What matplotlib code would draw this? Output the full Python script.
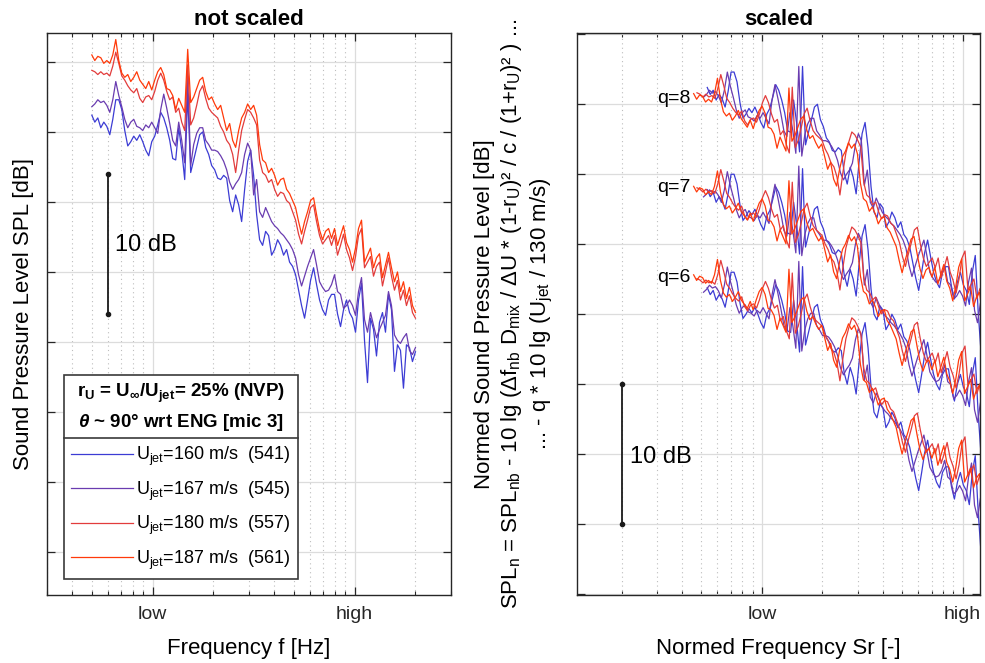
import numpy as np
import matplotlib
matplotlib.use("Agg")
import matplotlib.pyplot as plt
from matplotlib.font_manager import FontProperties
from matplotlib.lines import Line2D
from matplotlib.ticker import FixedLocator, NullFormatter

plt.rcParams["font.family"] = ["Liberation Sans", "DejaVu Sans"]
plt.rcParams["mathtext.fontset"] = "custom"
plt.rcParams["mathtext.rm"] = "Liberation Sans"
plt.rcParams["mathtext.it"] = "Liberation Sans:italic:bold"
plt.rcParams["mathtext.bf"] = "Liberation Sans:bold"

# jet speeds, run numbers and line colours
u_jet = [160, 167, 180, 187]
run_ids = [541, 545, 557, 561]
colors = ["#3c3cd4", "#6a3cb0", "#e23c3c", "#ff3a0a"]

# narrowband spectra (dB), on a log frequency grid
freq = np.geomspace(500, 20000, 109)
spl_160 = [96.2, 95.7, 96.0, 95.3, 95.7, 95.4, 94.8, 95.9, 97.3, 97.3,
           96.6, 95.1, 94.0, 94.3, 94.7, 94.4, 94.8, 94.3, 93.7, 93.3,
           94.3, 94.7, 95.5, 96.4, 96.0, 95.3, 94.4, 93.1, 93.0, 95.3,
           93.7, 91.6, 97.7, 92.1, 93.0, 93.9, 94.8, 95.0, 93.9, 93.4,
           92.6, 92.3, 91.7, 91.6, 91.9, 91.7, 90.1, 89.3, 90.5, 89.8,
           88.6, 90.9, 92.9, 93.7, 91.9, 89.1, 87.3, 86.9, 87.9, 87.6,
           86.2, 86.6, 87.3, 86.9, 86.2, 86.6, 85.7, 85.4, 84.8, 83.7,
           82.6, 81.7, 83.0, 84.4, 85.3, 84.1, 83.0, 82.3, 81.9, 83.0,
           83.4, 83.4, 82.0, 81.1, 82.3, 83.0, 82.1, 81.7, 80.7, 83.0,
           84.2, 80.1, 77.1, 81.7, 80.9, 79.0, 81.4, 82.1, 80.7, 83.4,
           82.3, 77.9, 79.8, 79.4, 76.7, 79.8, 79.6, 78.6, 79.3]
spl_167 = [96.8, 97.0, 97.3, 97.1, 97.2, 96.9, 96.4, 97.3, 98.6, 97.6,
           96.8, 95.9, 95.3, 95.7, 95.9, 95.4, 95.3, 95.1, 95.5, 95.3,
           95.7, 95.3, 94.9, 96.6, 97.7, 96.7, 95.6, 94.4, 94.0, 95.7,
           94.4, 92.8, 99.0, 92.6, 94.1, 94.9, 95.3, 95.3, 94.4, 94.1,
           93.7, 93.7, 93.6, 93.3, 92.9, 92.3, 91.4, 90.9, 91.3, 91.6,
           92.1, 93.4, 94.2, 93.7, 90.5, 91.6, 89.3, 88.9, 89.6, 89.1,
           88.6, 88.3, 88.1, 87.8, 87.6, 87.3, 87.0, 86.6, 86.0, 84.8,
           84.0, 84.7, 85.4, 86.0, 86.6, 85.5, 84.3, 83.9, 83.6, 83.7,
           84.1, 84.8, 83.6, 83.4, 82.4, 82.6, 83.0, 82.6, 81.9, 83.6,
           84.6, 81.6, 80.7, 82.1, 81.2, 80.3, 80.9, 81.4, 81.9, 83.6,
           82.6, 80.5, 80.1, 79.9, 80.3, 80.6, 79.4, 79.1, 79.6]
spl_180 = [99.4, 99.3, 99.1, 99.3, 99.1, 99.2, 99.0, 99.7, 100.7, 99.9,
           99.0, 98.7, 98.3, 98.0, 97.8, 98.1, 97.4, 97.1, 97.5, 97.6,
           97.3, 97.9, 98.7, 99.2, 98.7, 97.9, 97.3, 97.5, 96.4, 96.7,
           95.7, 95.1, 99.8, 95.5, 96.0, 96.9, 97.9, 98.3, 97.4, 96.7,
           96.4, 96.2, 96.0, 95.4, 95.0, 94.4, 94.1, 93.4, 92.1, 93.7,
           95.1, 95.9, 96.6, 96.4, 96.0, 95.5, 93.0, 92.1, 91.9, 91.4,
           91.6, 90.9, 90.4, 90.7, 90.6, 90.1, 89.9, 89.3, 88.7, 87.7,
           87.0, 87.9, 88.7, 89.6, 89.8, 88.6, 87.6, 87.0, 87.3, 87.6,
           86.9, 87.6, 86.2, 86.9, 87.7, 86.6, 86.0, 85.1, 86.1, 87.6,
           88.1, 85.3, 85.7, 86.1, 84.7, 85.4, 85.7, 84.0, 85.0, 86.0,
           84.7, 83.7, 84.4, 83.0, 83.7, 82.6, 83.3, 82.1, 81.7]
spl_187 = [100.5, 100.1, 100.4, 100.3, 99.9, 100.1, 99.9, 100.5, 101.6, 100.1,
           99.2, 98.9, 99.1, 98.6, 98.9, 99.3, 98.7, 98.4, 98.1, 98.6,
           98.0, 98.7, 99.3, 99.6, 99.1, 98.1, 98.0, 97.6, 96.6, 97.4,
           96.9, 96.4, 100.9, 97.1, 97.5, 98.1, 98.7, 98.9, 97.9, 97.3,
           97.5, 97.0, 96.6, 96.9, 96.0, 95.1, 95.6, 94.4, 93.9, 95.1,
           96.0, 96.4, 97.0, 96.6, 96.9, 96.2, 94.1, 93.0, 92.8, 92.1,
           92.4, 91.9, 91.2, 91.6, 91.7, 90.9, 90.6, 90.1, 89.6, 88.6,
           87.7, 88.6, 89.3, 90.1, 90.3, 89.1, 88.0, 87.3, 87.9, 88.1,
           87.4, 88.1, 86.9, 87.6, 88.3, 87.1, 86.6, 85.7, 86.7, 88.1,
           88.7, 85.7, 86.2, 86.7, 85.3, 86.0, 86.3, 84.6, 85.5, 86.4,
           85.3, 84.3, 85.0, 83.6, 84.3, 83.1, 83.9, 82.6, 82.1]
spectra = [spl_160, spl_167, spl_180, spl_187]

# scaling parameters
r_u = 0.25
d_mix = 0.171
q_values = [8, 7, 6]
stack_shift = {8: -73.6, 7: -81.8, 6: -89.7}  # vertical offsets so the q groups don't overlap


def style_axes(ax):
    ax.set_xscale("log")
    ax.set_axisbelow(True)
    ax.grid(True, which="major", color="#dcdcdc", linewidth=0.9)
    ax.grid(True, which="minor", axis="x", color="#bdbdbd", linestyle=(0, (1, 3)), linewidth=0.8)
    ax.tick_params(which="both", direction="in", top=True, right=True, colors="#262626",
                   labelsize=14, pad=8)
    ax.tick_params(which="major", length=6, width=0.9)
    ax.tick_params(which="minor", length=3, width=0.8)
    ax.xaxis.set_minor_formatter(NullFormatter())
    for spine in ax.spines.values():
        spine.set_color("#262626")
        spine.set_linewidth(1.0)


fig = plt.figure(figsize=(9.85, 6.63), dpi=100)
ax_l = fig.add_axes([0.0477, 0.1026, 0.4102, 0.8477])
ax_r = fig.add_axes([0.5858, 0.1026, 0.4091, 0.8477])

# ---- left: not scaled
lines = []
for u, rid, col, spl in zip(u_jet, run_ids, colors, spectra):
    (ln,) = ax_l.plot(freq, spl, color=col, linewidth=0.9,
                      label=f"U$_\\mathrm{{jet}}$=%d m/s  (%d)" % (u, rid))
    lines.append(ln)
style_axes(ax_l)
ax_l.set_xlim(300, 30000)
ax_l.set_ylim(61.93, 102.07)
ax_l.xaxis.set_major_locator(FixedLocator([1000, 10000]))
ax_l.set_xticklabels(["low", "high"])
ax_l.set_yticks(np.arange(65, 101, 5))
ax_l.set_yticklabels([])
ax_l.plot([600, 600], [82, 92], color="#1a1a1a", linewidth=1.3, marker="o", markersize=3)
ax_l.text(655, 86.9, "10 dB", fontsize=17, va="center")
ax_l.set_title("not scaled", fontsize=16, fontweight="bold", pad=6)
ax_l.set_xlabel("Frequency f [Hz]", fontsize=16, labelpad=11)
ax_l.set_ylabel("Sound Pressure Level SPL [dB]", fontsize=16, labelpad=1)

header = ("r$_\\mathbf{U}$ = U$_\\mathbf{\\infty}$/U$_\\mathbf{jet}$= 25% (NVP)\n"
          "$\\theta$ ~ 90° wrt ENG [mic 3]")
leg = ax_l.legend(lines, [ln.get_label() for ln in lines], loc="lower left",
                  bbox_to_anchor=(64 / 985, 84 / 663), bbox_transform=fig.transFigure,
                  title=header, title_fontproperties=FontProperties(weight="bold", size=13.5),
                  prop={"size": 13}, frameon=True, fancybox=False, edgecolor="#3a3a3a",
                  framealpha=1, handlelength=3.4, handletextpad=0.2, labelspacing=0.63,
                  borderpad=0.4, borderaxespad=0)
leg.get_frame().set_linewidth(1.2)
leg.get_title().set_multialignment("center")
leg.get_title().set_linespacing(1.5)

# ---- right: scaled
for q in q_values:
    for u, col, spl in zip(u_jet, colors, spectra):
        sr = freq * d_mix / u
        spl_n = (np.asarray(spl) + 10 * np.log10(u * (1 - r_u))
                 - q * 10 * np.log10(u / 130) + stack_shift[q])
        ax_r.plot(sr, spl_n, color=col, linewidth=0.9)
style_axes(ax_r)
ax_r.set_xlim(0.12, 12.2)
ax_r.set_ylim(-0.07, 40.07)
ax_r.xaxis.set_major_locator(FixedLocator([1, 10]))
ax_r.set_xticklabels(["low", "high"])
ax_r.set_yticks(np.arange(0, 41, 5))
ax_r.set_yticklabels([])
ax_r.plot([0.2, 0.2], [5, 15], color="#1a1a1a", linewidth=1.3, marker="o", markersize=3)
ax_r.text(0.22, 9.8, "10 dB", fontsize=17, va="center")
for q, yq in zip(q_values, [35.4, 29.0, 22.6]):
    ax_r.text(0.443, yq, f"q={q}", ha="right", va="center", fontsize=14)
ax_r.set_title("scaled", fontsize=16, fontweight="bold", pad=6)
ax_r.set_xlabel("Normed Frequency Sr [-]", fontsize=16, labelpad=11)
ax_r.set_ylabel("Normed Sound Pressure Level [dB]\n"
                "SPL$_\\mathrm{n}$ = SPL$_\\mathrm{nb}$ - 10 lg ($\\Delta$f$_\\mathrm{nb}$ "
                "D$_\\mathrm{mix}$ / $\\Delta$U * (1-r$_\\mathrm{U}$)² / c / (1+r$_\\mathrm{U}$)² ) ...\n"
                "... - q * 10 lg (U$_\\mathrm{jet}$ / 130 m/s)",
                fontsize=16, labelpad=8, linespacing=1.25, multialignment="center")

# separator line under the legend header
fig.canvas.draw()
renderer = fig.canvas.get_renderer()
fb = leg.get_frame().get_window_extent(renderer)
tb = leg.get_title().get_window_extent(renderer)
inv = fig.transFigure.inverted()
(sx0, sy), (sx1, _) = inv.transform([(fb.x0, tb.y0 - 5), (fb.x1, tb.y0 - 5)])
fig.add_artist(Line2D([sx0, sx1], [sy, sy], transform=fig.transFigure,
                      color="#3a3a3a", linewidth=1.2))

fig.savefig("out.png", dpi=100)
